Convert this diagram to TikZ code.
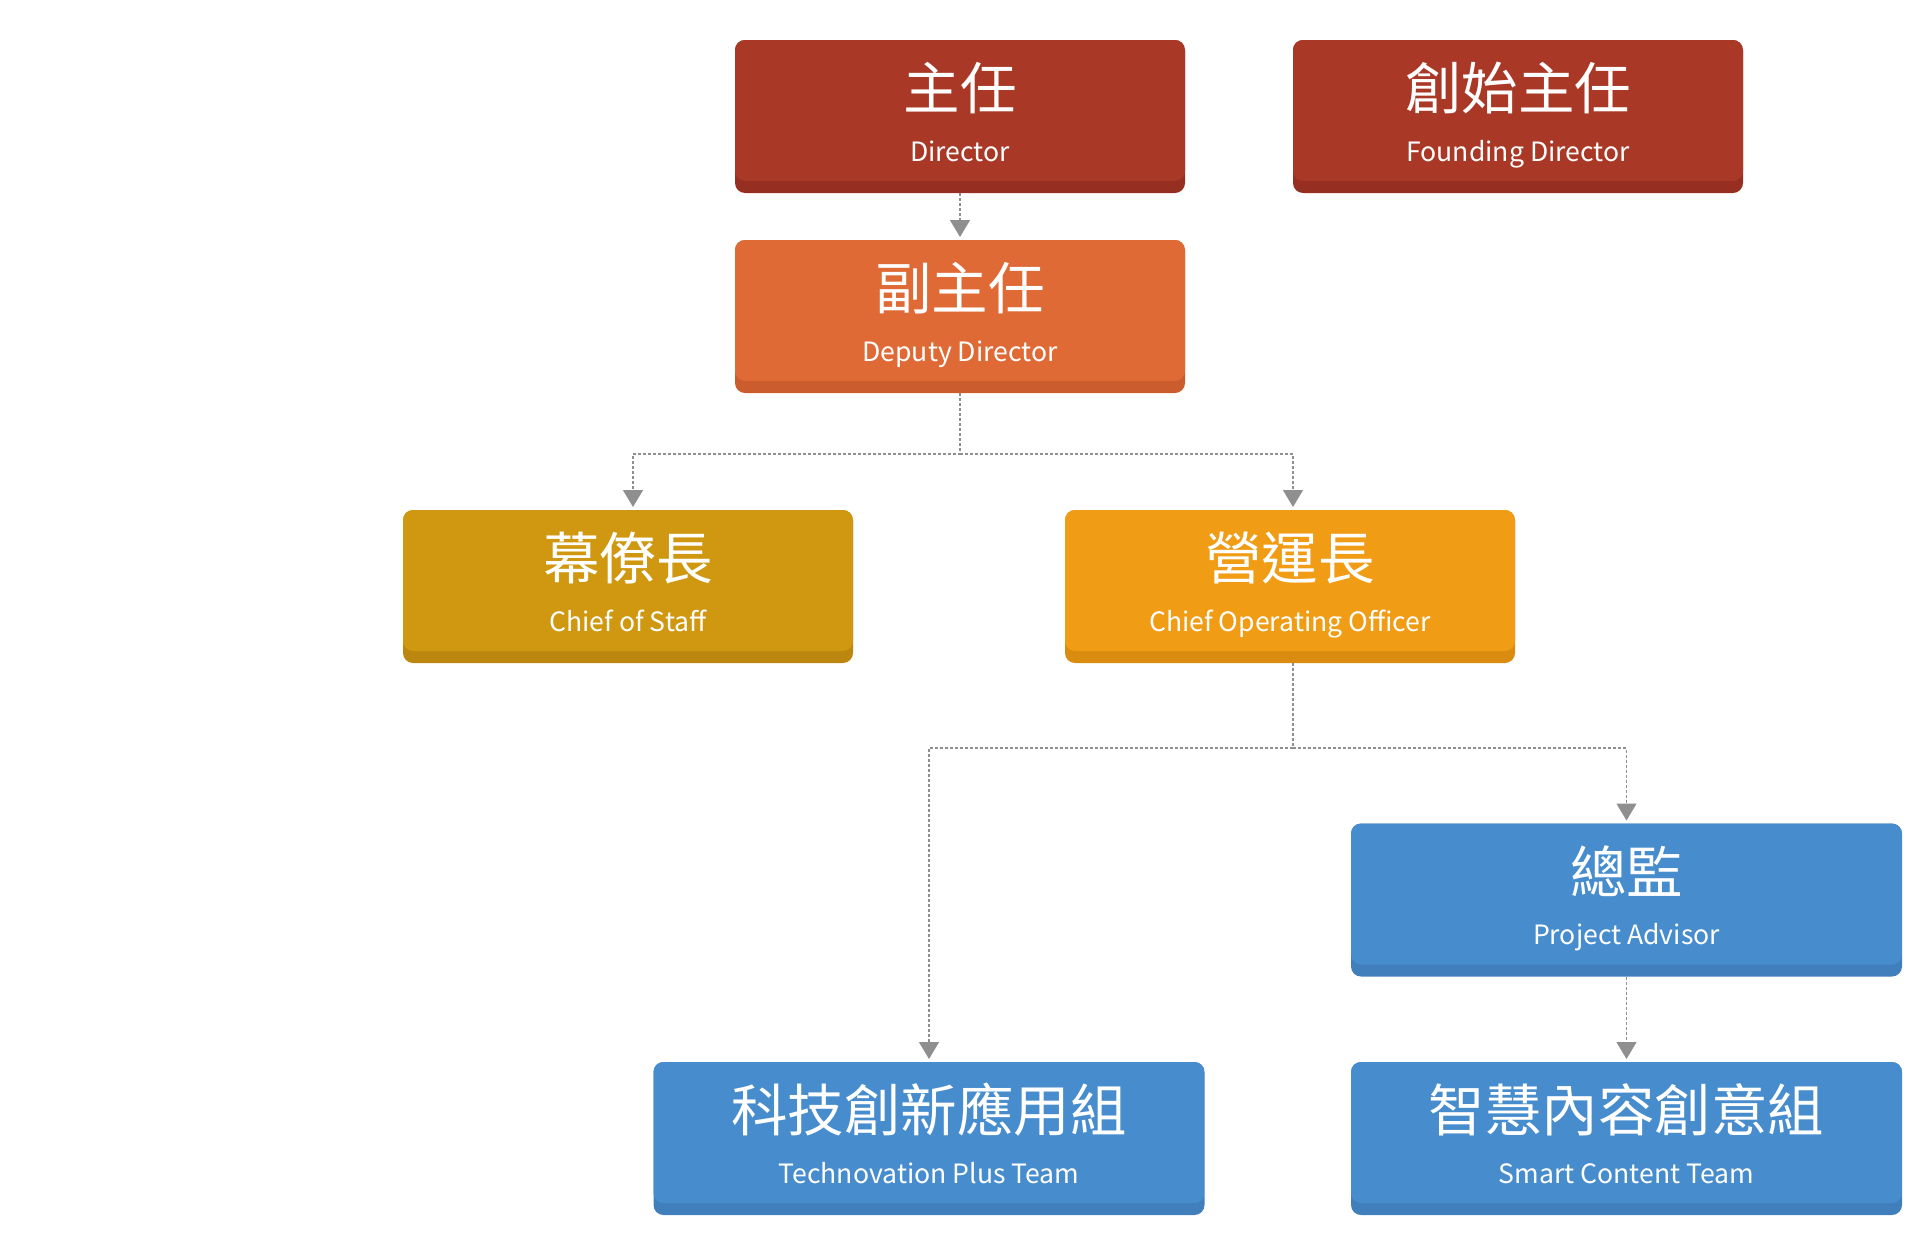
\documentclass[tikz,border=0pt]{standalone}
\usepackage{fontspec}
\setmainfont{Noto Sans CJK TC}
\usetikzlibrary{arrows.meta,calc}
\definecolor{redL}{HTML}{AA3826}\definecolor{redD}{HTML}{962F21}
\definecolor{oraL}{HTML}{E06A36}\definecolor{oraD}{HTML}{CB5C2D}
\definecolor{golL}{HTML}{CF9810}\definecolor{golD}{HTML}{BB870E}
\definecolor{ambL}{HTML}{F09C15}\definecolor{ambD}{HTML}{DA8C10}
\definecolor{bluL}{HTML}{478DCD}\definecolor{bluD}{HTML}{417FBC}
\definecolor{lineG}{HTML}{8F8F8F}
\tikzset{
  orgbox/.style n args={3}{draw=none, fill=#2, rounded corners=10pt,
    minimum width=#3, minimum height=153pt, inner sep=0pt, outer sep=0pt,
    path picture={\fill[#1,rounded corners=10pt] (path picture bounding box.north west) rectangle ([yshift=12pt]path picture bounding box.south east);}},
  zh/.style={font=\fontsize{56.5pt}{60pt}\selectfont, text=white, inner sep=0pt},
  en/.style={font=\fontsize{26.6pt}{30pt}\selectfont, text=white, inner sep=0pt, anchor=base},
  conn/.style={draw=lineG, dash pattern=on 3pt off 2pt, line width=1.3pt,
    -{Triangle[length=17pt,width=20pt,fill=lineG]}, shorten >=3pt}
}
\begin{document}
\begin{tikzpicture}[x=1pt,y=-1pt]
\useasboundingbox (0,0) rectangle (1920,1253);
\node[orgbox={redL}{redD}{450pt}] (dir) at (960,116.5) {};
\node[orgbox={redL}{redD}{450pt}] (fnd) at (1518,116.5) {};
\node[orgbox={oraL}{oraD}{450pt}] (dep) at (960,316.5) {};
\node[orgbox={golL}{golD}{450pt}] (cos) at (628,586.5) {};
\node[orgbox={ambL}{ambD}{450pt}] (coo) at (1290,586.5) {};
\node[orgbox={bluL}{bluD}{551pt}] (pa) at (1626.5,900) {};
\node[orgbox={bluL}{bluD}{551pt}] (tech) at (929,1138.5) {};
\node[orgbox={bluL}{bluD}{551pt}] (sct) at (1626.5,1138.5) {};

\foreach \n/\z/\e in {dir/主任/Director, fnd/創始主任/Founding Director, dep/副主任/Deputy Director,
  cos/幕僚長/Chief of Staff, coo/營運長/Chief Operating Officer, pa/總監/Project Advisor,
  tech/科技創新應用組/Technovation Plus Team, sct/智慧內容創意組/Smart Content Team}{
  \node[zh] (\n-zh) at ([yshift=-48pt]\n.north) {\z};
  \node[en] (\n-en) at ([yshift=-121pt]\n.north) {\e};
}

\coordinate (j1) at (960,454);
\coordinate (j2) at (1293,748);
\draw[conn] (dir.south) -- (dep.north);
\draw[conn] (dep.south) -- (j1) -| ([xshift=5pt]cos.north);
\draw[conn] (j1) -| ([xshift=3pt]coo.north);
\draw[conn] ([xshift=3pt]coo.south) -- (j2) -| (tech.north);
\draw[conn] (j2) -| (pa.north);
\draw[conn] (pa.south) -- (sct.north);
\end{tikzpicture}
\end{document}
